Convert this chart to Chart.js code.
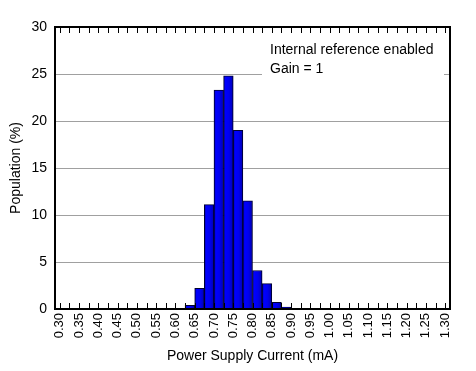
<!DOCTYPE html>
<html>
<head>
<meta charset="utf-8">
<script src="https://cdn.jsdelivr.net/npm/chart.js@4.4.1/dist/chart.umd.min.js"></script>
<style>
    body { margin: 0; background: #fff; }
    #wrap { width: 476px; height: 371px; }
</style>
</head>
<body>
<div id="wrap"><canvas id="hist_chart" width="476" height="371"></canvas></div>
<script>
// histogram bins (lower edge, mA) and population (%)
var BinStart = [0.625, 0.65, 0.675, 0.70, 0.725, 0.75, 0.775, 0.80, 0.825, 0.85, 0.875];
var Population = [0.4, 2.2, 11.1, 23.3, 24.8, 19.0, 11.5, 4.1, 2.7, 0.7, 0.2];
var BinWidth = 0.025;

var XTickLabels = ['0.30', '0.35', '0.40', '0.45', '0.50', '0.55', '0.60', '0.65', '0.70', '0.75', '0.80',
    '0.85', '0.90', '0.95', '1.00', '1.05', '1.10', '1.15', '1.20', '1.25', '1.30'];
var YTicks = [0, 5, 10, 15, 20, 25, 30];
var NoteLines = ['Internal reference enabled', 'Gain = 1'];

var FONT = 'Liberation Sans, Arial, sans-serif';

var Form = {
    BarFill: function (c) {
        var xs = c.chart.scales.x;
        if (!xs || !c.raw) return '#0000ff';
        var x0 = xs.getPixelForValue(c.raw.x - BinWidth / 2);
        var x1 = xs.getPixelForValue(c.raw.x + BinWidth / 2);
        if (!isFinite(x0) || !isFinite(x1) || x1 <= x0) return '#0000ff';
        var g = c.chart.ctx.createLinearGradient(x0, 0, x1, 0);
        g.addColorStop(0, '#0000a0');
        g.addColorStop(0.2, '#0000ff');
        g.addColorStop(0.55, '#0000f0');
        g.addColorStop(0.85, '#0000c8');
        g.addColorStop(1, '#000080');
        return g;
    },
    // frame, inward ticks and the note box
    Decor: {
        id: 'decor',
        afterDatasetsDraw: function (chart) {
            var ctx = chart.ctx;
            ctx.save();
            ctx.fillStyle = '#fff';
            ctx.fillRect(262, 36, 182, 48);
            ctx.fillStyle = '#000';
            ctx.font = '14px ' + FONT;
            ctx.textBaseline = 'alphabetic';
            ctx.fillText(NoteLines[0], 270, 54);
            ctx.fillText(NoteLines[1], 270, 73);
            ctx.restore();
        },
        afterDraw: function (chart) {
            var ctx = chart.ctx, a = chart.chartArea, xs = chart.scales.x;
            ctx.save();
            ctx.strokeStyle = '#000';
            ctx.lineWidth = 1;
            ctx.beginPath();
            xs.ticks.forEach(function (t) {
                var px = Math.round(xs.getPixelForValue(t.value)) + 0.5;
                ctx.moveTo(px, a.top);
                ctx.lineTo(px, a.top + 6);
                ctx.moveTo(px, a.bottom);
                ctx.lineTo(px, a.bottom - 6);
            });
            ctx.stroke();
            ctx.lineWidth = 2;
            ctx.strokeRect(a.left, a.top, a.right - a.left, a.bottom - a.top);
            ctx.restore();
        }
    },
    Config: function () {
        var points = [];
        for (var i = 0; i < BinStart.length; ++i) {
            points.push({ x: BinStart[i] + BinWidth / 2, y: Population[i] });
        }

        return {
            type: 'bar',
            data: {
                datasets: [{
                    label: 'Population',
                    data: points,
                    backgroundColor: Form.BarFill,
                    borderColor: '#000030',
                    borderWidth: 1,
                    barPercentage: 1,
                    categoryPercentage: 1
                }]
            },
            options: {
                responsive: false,
                animation: false,
                layout: { padding: { left: 0, right: 26, top: 27, bottom: 0 } },
                plugins: { legend: { display: false }, tooltip: { enabled: false } },
                scales: {
                    x: {
                        type: 'linear',
                        min: 0.3,
                        max: 1.3,
                        afterBuildTicks: function (s) {
                            var ticks = [];
                            for (var i = 0; i < XTickLabels.length; ++i) {
                                var v = parseFloat(XTickLabels[i]);
                                ticks.push({ value: v, label: XTickLabels[i] });
                                if (i < XTickLabels.length - 1) {
                                    ticks.push({ value: (v + parseFloat(XTickLabels[i + 1])) / 2, label: '' });
                                }
                            }
                            s.ticks = ticks;
                        },
                        afterFit: function (s) { s.height = 62; },
                        ticks: {
                            autoSkip: false,
                            minRotation: 90,
                            maxRotation: 90,
                            padding: 4,
                            color: '#000',
                            font: { family: FONT, size: 13 },
                            callback: function (v, i, t) { return t[i].label; }
                        },
                        grid: { drawOnChartArea: false, drawTicks: false },
                        border: { display: false },
                        title: {
                            display: true,
                            text: 'Power Supply Current (mA)',
                            color: '#000',
                            font: { family: FONT, size: 14 },
                            padding: { top: 0, bottom: 6 }
                        }
                    },
                    y: {
                        min: 0,
                        max: 30,
                        afterBuildTicks: function (s) {
                            s.ticks = YTicks.map(function (v) { return { value: v }; });
                        },
                        afterFit: function (s) { s.width = 55; },
                        ticks: {
                            padding: 8,
                            color: '#000',
                            font: { family: FONT, size: 14 }
                        },
                        grid: { color: '#a0a0a0', lineWidth: 1, drawTicks: false },
                        border: { display: false },
                        title: {
                            display: true,
                            text: 'Population (%)',
                            color: '#000',
                            font: { family: FONT, size: 14 },
                            padding: { top: 8, bottom: 0 }
                        }
                    }
                }
            },
            plugins: [Form.Decor]
        };
    }
};

new Chart(document.getElementById('hist_chart').getContext('2d'), Form.Config());
</script>
</body>
</html>
